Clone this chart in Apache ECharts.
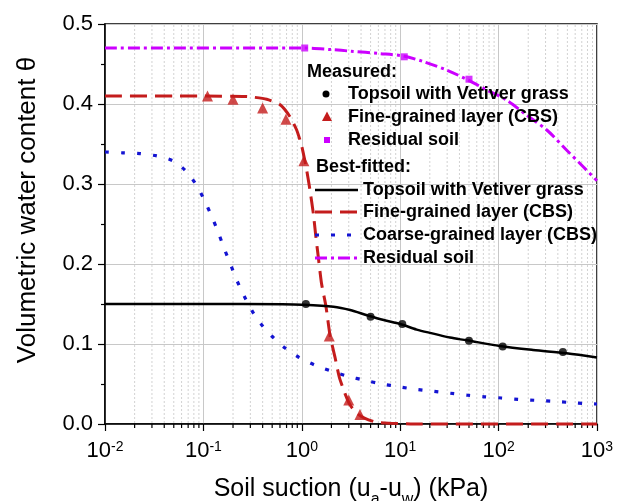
<!DOCTYPE html>
<html><head><meta charset="utf-8">
<script src="https://cdn.jsdelivr.net/npm/echarts@6/dist/echarts.min.js"></script>
<style>html,body{margin:0;padding:0;background:#fff}#c{width:624px;height:501px}</style>
</head><body><div id="c"></div>
<script>
const FONT = "'Liberation Sans', Arial, sans-serif";

// ---- Measured data ----
const topsoilMeasX = [1.1, 5, 10.5, 50, 110, 450];
const topsoilMeasY = [0.15, 0.134, 0.125, 0.104, 0.097, 0.09];
const fineMeasX = [0.11, 0.2, 0.4, 0.69, 1.05, 1.9, 3.0, 3.9];
const fineMeasY = [0.41, 0.406, 0.395, 0.381, 0.329, 0.11, 0.03, 0.012];
const residualMeasX = [1.07, 11, 50];
const residualMeasY = [0.47, 0.459, 0.431];

// ---- Best-fitted curves ----
const topsoilFitX = [0.01, 0.1, 0.63, 1.0, 2.1, 3.1, 4.6, 6.8, 10, 14.7, 21.7, 32, 47.4, 103, 224, 490, 1000];
const topsoilFitY = [0.15, 0.15, 0.1497, 0.1492, 0.1466, 0.1425, 0.136, 0.13, 0.125, 0.118, 0.113, 0.108, 0.1046, 0.0975, 0.0925, 0.0883, 0.083];

const fineFitX = [0.01, 0.1, 0.251, 0.298, 0.44, 0.603, 0.759, 0.887, 1.0, 1.12, 1.21, 1.31, 1.39, 1.47, 1.585, 1.76, 1.94, 2.17, 2.40, 2.75, 3.09, 3.61, 4.39, 5.77, 7.94, 15.8, 1000];
const fineFitY = [0.41, 0.41, 0.4095, 0.409, 0.406, 0.399, 0.384, 0.3675, 0.347, 0.3175, 0.2925, 0.263, 0.234, 0.209, 0.176, 0.147, 0.11, 0.084, 0.059, 0.038, 0.024, 0.0134, 0.007, 0.002, 0.001, 0, 0];

const coarseFitX = [0.01, 0.0151, 0.0227, 0.0339, 0.049, 0.0655, 0.0847, 0.102, 0.121, 0.141, 0.162, 0.188, 0.218, 0.257, 0.31, 0.385, 0.494, 0.67, 0.936, 1.37, 2.0, 2.95, 4.39, 6.53, 9.7, 14.5, 21.5, 32, 48, 72, 107, 158, 238, 360, 536, 794, 1000];
const coarseFitY = [0.34, 0.339, 0.338, 0.335, 0.329, 0.317, 0.299, 0.28, 0.26, 0.24, 0.22, 0.2, 0.18, 0.161, 0.142, 0.125, 0.11, 0.0954, 0.0834, 0.0734, 0.066, 0.0596, 0.0546, 0.05, 0.0466, 0.0433, 0.041, 0.0385, 0.036, 0.034, 0.0325, 0.0308, 0.0296, 0.0284, 0.0268, 0.0255, 0.025];

const residualFitX = [0.01, 1, 2, 3.16, 6.24, 10.7, 17.2, 29.6, 49, 75.9, 120, 193, 309, 490, 724, 1000];
const residualFitY = [0.47, 0.47, 0.468, 0.466, 0.463, 0.46, 0.453, 0.4425, 0.43, 0.4175, 0.405, 0.386, 0.3675, 0.3425, 0.3216, 0.304];

// ---- Axes ----
const xTickExponents = [-2, -1, 0, 1, 2, 3];
const yTicks = [0, 0.1, 0.2, 0.3, 0.4, 0.5];
const minorDecades = [0.01, 0.1, 1, 10, 100];
const minorMultipliers = [2, 3, 4, 5, 6, 7, 8, 9];

const RED = '#c41c1c', BLUE = '#1414d2', PURPLE = '#cc00ff';

const pairs = (xs, ys) => xs.map((x, i) => [x, ys[i]]);
const minorX = [];
minorDecades.forEach(d => minorMultipliers.forEach(m => minorX.push([d * m, 0])));

const chart = echarts.init(document.getElementById('c'), null, {renderer: 'canvas'});
const LF = "bold 18px " + FONT;
const txt = (t, x, y) => ({type: 'text', x: x, y: y, z: 100, style: {text: t, font: LF, fill: '#000', verticalAlign: 'middle', textAlign: 'left'}});

chart.setOption({
  animation: false,
  backgroundColor: '#fff',
  grid: {left: 105, right: 27, top: 24, bottom: 77, show: true, borderColor: '#000', borderWidth: 1.5, backgroundColor: 'transparent', containLabel: false, outerBoundsMode: 'none'},
  xAxis: {
    type: 'log', logBase: 10, min: 0.01, max: 1000,
    axisLine: {lineStyle: {color: '#000', width: 1.5}},
    axisTick: {show: true, length: 7, inside: false, lineStyle: {color: '#000', width: 1.2}},
    minorTick: {show: false},
    splitLine: {show: true, lineStyle: {color: '#c8c8c8', width: 1, type: 'solid'}},
    axisLabel: {
      margin: 16, color: '#000',
      formatter: function (v) {
        const e = Math.round(Math.log10(v));
        if (xTickExponents.indexOf(e) < 0) return '';
        return '{b|10}{sup|' + e + '}';
      },
      rich: {
        b: {fontSize: 22, lineHeight: 22, fontFamily: FONT, color: '#000', verticalAlign: 'top'},
        sup: {fontSize: 14, lineHeight: 14, fontFamily: FONT, color: '#000', verticalAlign: 'top'}
      }
    },
    name: '{b|Soil suction (u}{sub|a}{b|-u}{sub|w}{b|) (kPa)}',
    nameLocation: 'middle', nameGap: 53,
    nameTextStyle: {
      color: '#000', fontFamily: FONT, fontSize: 25,
      rich: {
        b: {fontSize: 25, lineHeight: 25, fontFamily: FONT, color: '#000', verticalAlign: 'top'},
        sub: {fontSize: 16, lineHeight: 16, padding: [15, 0, 0, 0], fontFamily: FONT, color: '#000', verticalAlign: 'top'}
      }
    }
  },
  yAxis: {
    type: 'value', min: yTicks[0], max: yTicks[yTicks.length - 1], interval: 0.1,
    axisLine: {show: true, lineStyle: {color: '#000', width: 1.5}},
    axisTick: {show: true, length: 7, inside: false, lineStyle: {color: '#000', width: 1.2}},
    minorTick: {show: true, splitNumber: 2, length: 4, lineStyle: {color: '#000', width: 1.2}},
    splitLine: {show: true, lineStyle: {color: '#c8c8c8', width: 1}},
    axisLabel: {margin: 12, color: '#000', fontSize: 22, fontFamily: FONT, formatter: v => v.toFixed(1)},
    name: 'Volumetric water content θ',
    nameLocation: 'middle', nameGap: 64,
    nameTextStyle: {color: '#000', fontFamily: FONT, fontSize: 26, lineHeight: 26, padding: [0, 0, 0, 28]}
  },
  series: [
    {
      type: 'custom', coordinateSystem: 'cartesian2d', silent: true, clip: false, z: 1,
      data: minorX, encode: {x: 0, y: 1},
      renderItem: function (params, api) {
        const x = api.value(0);
        const p0 = api.coord([x, 0]);
        const p1 = api.coord([x, 0.5]);
        return {type: 'group', children: [
          {type: 'line', shape: {x1: p0[0], y1: p0[1] - 1, x2: p1[0], y2: p1[1] + 1}, style: {stroke: '#d2d2d2', lineWidth: 1, lineDash: [2, 2]}},
          {type: 'line', shape: {x1: p0[0], y1: p0[1], x2: p0[0], y2: p0[1] + 4}, style: {stroke: '#000', lineWidth: 1.2}}
        ]};
      }
    },
    {name: 'Residual soil fit', type: 'line', data: pairs(residualFitX, residualFitY), showSymbol: false, smooth: 0.3, z: 3,
      lineStyle: {color: PURPLE, width: 3, type: [12, 4, 3, 4]}},
    {name: 'Coarse fit', type: 'line', data: pairs(coarseFitX, coarseFitY), showSymbol: false, smooth: 0.3, z: 3,
      lineStyle: {color: BLUE, width: 3.2, type: [4, 12]}},
    {name: 'Fine fit', type: 'line', data: pairs(fineFitX, fineFitY), showSymbol: false, smooth: 0.2, clip: false, z: 4,
      lineStyle: {color: RED, width: 3, type: [17, 8]}},
    {name: 'Topsoil fit', type: 'line', data: pairs(topsoilFitX, topsoilFitY), showSymbol: false, smooth: 0.3, z: 4,
      lineStyle: {color: '#000', width: 2.5, type: 'solid'}},
    {name: 'Topsoil measured', type: 'scatter', data: pairs(topsoilMeasX, topsoilMeasY), symbol: 'circle', symbolSize: 8, z: 6,
      itemStyle: {color: '#000'}},
    {name: 'Fine measured', type: 'scatter', data: pairs(fineMeasX, fineMeasY), symbol: 'triangle', symbolSize: 11, z: 6,
      itemStyle: {color: RED}},
    {name: 'Residual measured', type: 'scatter', data: pairs(residualMeasX, residualMeasY), symbol: 'rect', symbolSize: 7, z: 6,
      itemStyle: {color: PURPLE}}
  ],
  graphic: [
    txt('Measured:', 307, 72),
    {type: 'circle', z: 100, shape: {cx: 326, cy: 94, r: 3.5}, style: {fill: '#000'}},
    txt('Topsoil with Vetiver grass', 348, 94),
    {type: 'polygon', z: 100, shape: {points: [[327, 111.5], [332, 121], [322, 121]]}, style: {fill: RED}},
    txt('Fine-grained layer (CBS)', 348, 117),
    {type: 'rect', z: 100, shape: {x: 324, y: 137, width: 6, height: 6}, style: {fill: PURPLE}},
    txt('Residual soil', 348, 140),
    txt('Best-fitted:', 316, 167),
    {type: 'line', z: 100, shape: {x1: 315, y1: 190, x2: 358, y2: 190}, style: {stroke: '#000', lineWidth: 2.5}},
    txt('Topsoil with Vetiver grass', 363, 190),
    {type: 'line', z: 100, shape: {x1: 315, y1: 212, x2: 358, y2: 212}, style: {stroke: RED, lineWidth: 3, lineDash: [17, 8]}},
    txt('Fine-grained layer (CBS)', 363, 212),
    {type: 'line', z: 100, shape: {x1: 315, y1: 235, x2: 358, y2: 235}, style: {stroke: BLUE, lineWidth: 3.2, lineDash: [4, 12]}},
    txt('Coarse-grained layer (CBS)', 363, 235),
    {type: 'line', z: 100, shape: {x1: 315, y1: 258, x2: 358, y2: 258}, style: {stroke: PURPLE, lineWidth: 3, lineDash: [12, 4, 3, 4]}},
    txt('Residual soil', 363, 258)
  ]
});
</script>
</body></html>
